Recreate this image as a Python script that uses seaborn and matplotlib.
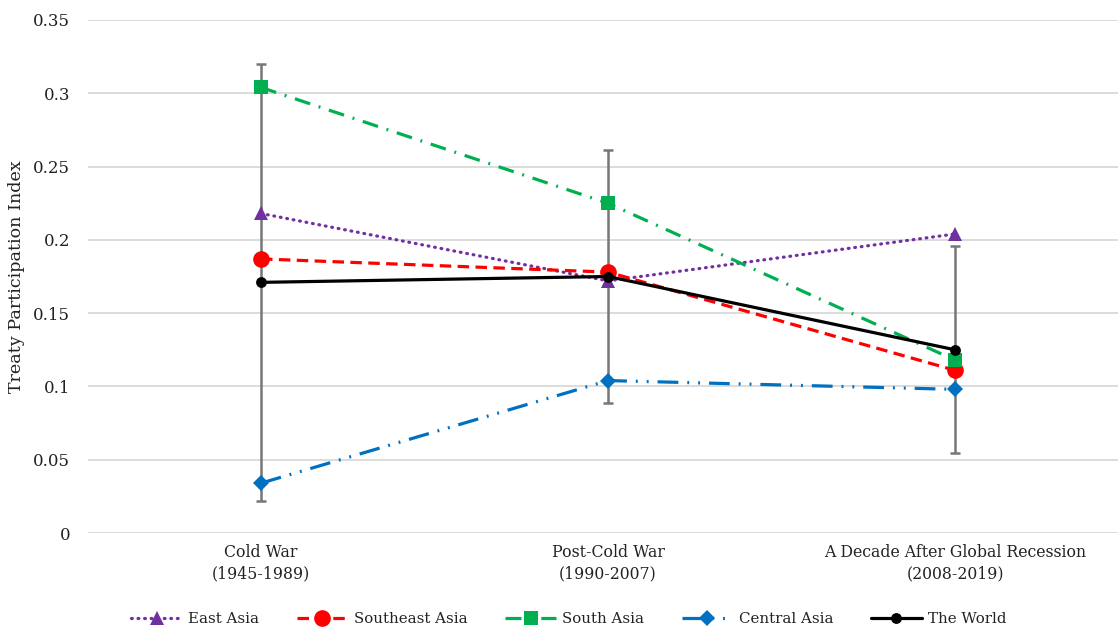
import matplotlib
matplotlib.use("Agg")
import matplotlib.pyplot as plt
import seaborn as sns
import pandas as pd
import numpy as np

periods = ["Cold War\n(1945-1989)", "Post-Cold War\n(1990-2007)",
           "A Decade After Global Recession\n(2008-2019)"]
east_asia = [0.218, 0.172, 0.204]
southeast_asia = [0.187, 0.178, 0.111]
south_asia = [0.304, 0.225, 0.118]
central_asia = [0.034, 0.104, 0.098]
the_world = [0.171, 0.175, 0.125]
world_err = [0.149, 0.0865, 0.0705]
y_ticks = [0, 0.05, 0.1, 0.15, 0.2, 0.25, 0.3, 0.35]
y_tick_labels = ["0", "0.05", "0.1", "0.15", "0.2", "0.25", "0.3", "0.35"]

series = {
    "East Asia": east_asia,
    "Southeast Asia": southeast_asia,
    "South Asia": south_asia,
    "Central Asia": central_asia,
    "The World": the_world,
}
styles = {
    "East Asia": dict(color="#7030A0", marker="^", markersize=10,
                      linestyle=(0, (0.25, 1.8)), dash_capstyle="round"),
    "Southeast Asia": dict(color="#FF0000", marker="o", markersize=12,
                           linestyle=(0, (3.6, 2.0))),
    "South Asia": dict(color="#00B050", marker="s", markersize=10,
                       linestyle=(0, (5.0, 2.8, 0.6, 2.8))),
    "Central Asia": dict(color="#0070C0", marker="D", markersize=8.5,
                         linestyle=(0, (6.5, 2.8, 0.6, 2.8, 0.6, 2.8))),
    "The World": dict(color="black", marker="o", markersize=7.8,
                      linestyle="-"),
}

sns.set_theme(style="white")
plt.rcParams["font.family"] = ["DejaVu Serif"]

fig = plt.figure(figsize=(11.18, 6.28), dpi=100)
ax = fig.add_axes([87.5 / 1118, 95 / 628, 1 - 87.5 / 1118, 513 / 628])

pos = np.arange(len(periods))

# Variation around the world average
ax.errorbar(pos, the_world, yerr=world_err, fmt="none", ecolor="#777777",
            elinewidth=1.8, capsize=3.8, capthick=1.8, zorder=2)

df = pd.DataFrame({"pos": np.tile(pos, len(series)),
                   "value": np.concatenate([series[k] for k in series]),
                   "region": np.repeat(list(series.keys()), len(pos))})

for i, name in enumerate(series):
    sub = df[df["region"] == name]
    st = styles[name]
    sns.lineplot(data=sub, x="pos", y="value", ax=ax, label=name,
                 color=st["color"], marker=st["marker"],
                 markersize=st["markersize"], markeredgewidth=0,
                 linewidth=2.3, zorder=3 + i, sort=False)
    ln = ax.get_lines()[-1]
    ln.set_linestyle(st["linestyle"])
    if "dash_capstyle" in st:
        ln.set_dash_capstyle(st["dash_capstyle"])

ax.set_xlim(-0.5, 2.5 - 10.5 / 347)
ax.set_ylim(0, 0.35)
ax.set_xticks(pos)
ax.set_xticklabels(periods, fontsize=11.3, color="#222222", linespacing=1.35)
ax.set_yticks(y_ticks)
ax.set_yticklabels(y_tick_labels, fontsize=12, color="#222222")
ax.set_xlabel("")
ax.set_ylabel("Treaty Participation Index", fontsize=12.6, color="#222222",
              labelpad=6)
ax.tick_params(axis="y", length=0, pad=12.5)
ax.tick_params(axis="x", length=0, pad=8)
ax.grid(axis="y", color="#D9D9D9", linewidth=1.3)
ax.grid(axis="x", visible=False)
ax.set_axisbelow(True)
for sp in ax.spines.values():
    sp.set_visible(False)

leg = ax.legend(loc="center", bbox_to_anchor=(0.5 - 0.033, -0.168), ncol=5,
                frameon=False, fontsize=10.8, handlelength=3.4,
                columnspacing=2.5, handletextpad=0.4)
for t in leg.get_texts():
    t.set_color("#222222")

fig.savefig("out.png", dpi=100)
